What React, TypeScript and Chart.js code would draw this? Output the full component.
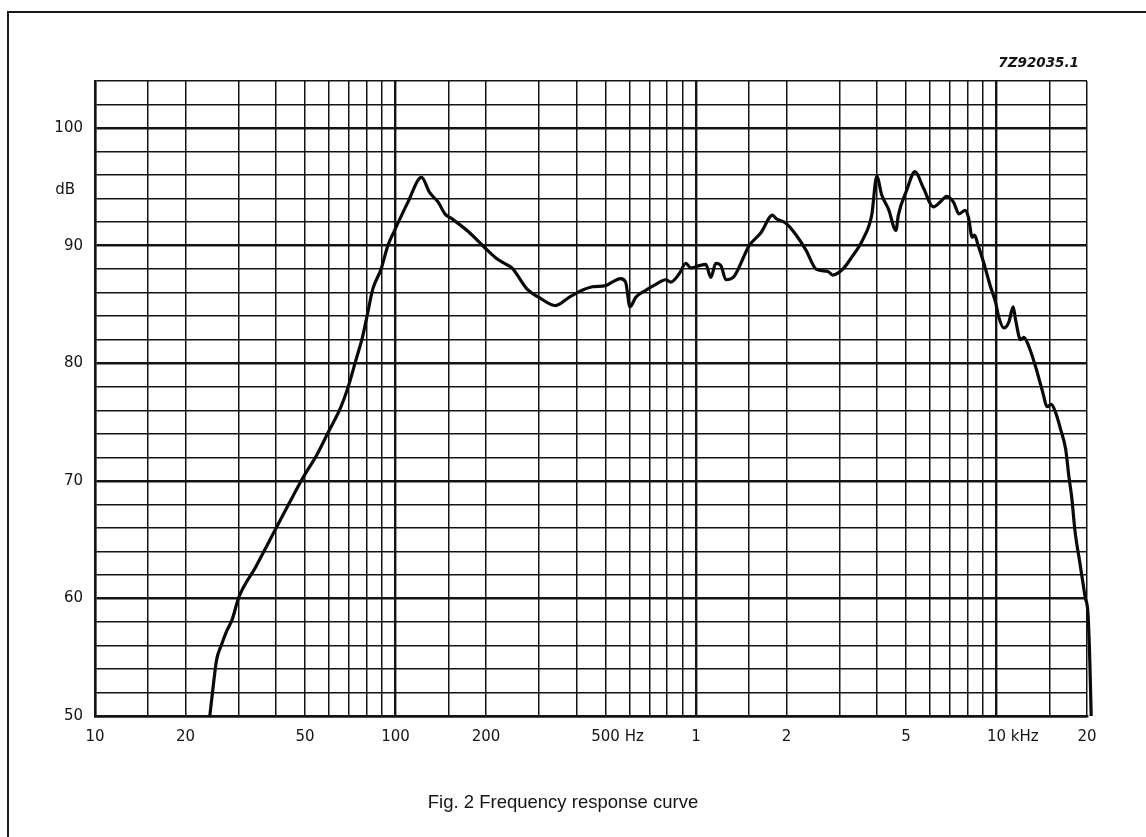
import React, { useEffect, useRef } from "react";
import { Chart, registerables } from "chart.js";

Chart.register(...registerables);

// Frequency (Hz) and sound pressure level (dB)
const FREQ_HZ = [
  24.1, 24.6, 25.4, 26.3, 27.4, 28.6, 30.1, 34.3, 40.1, 44.5, 49.3, 54.7, 59.9, 65.6, 70, 73.7,
  77.6, 80.7, 84, 89.5, 94.3, 99.3, 110, 122, 130, 138.7, 146, 153.8, 174.6, 198.6, 214.7, 230,
  244, 274, 300, 341, 378, 418, 452, 500, 526, 561, 583, 603, 630, 680, 735, 793, 824, 879, 925,
  961, 1024, 1078, 1120, 1164, 1210, 1257, 1340, 1503, 1644, 1798, 1845, 1992, 2153, 2324, 2510,
  2744, 2851, 3079, 3294, 3603, 3843, 3994, 4150, 4370, 4627, 4713, 5023, 5355, 5710, 6166, 6490,
  6827, 7190, 7503, 7860, 8063, 8300, 8450, 8670, 9074, 9550, 9923, 10180, 10580, 10990, 11360,
  11570, 12020, 12330, 12820, 13490, 14190, 14750, 15210, 15730, 16330, 16980, 17420, 17790,
  18250, 18970, 19720, 20150, 20450, 20650,
];
const LEVEL_DB = [
  50, 52, 54.8, 56, 57.2, 58.2, 60.1, 62.7, 66, 68.2, 70.3, 72.2, 74.2, 76.2, 78.2, 80.2,
  82.2, 84.2, 86.3, 88, 90, 91.3, 93.7, 95.8, 94.5, 93.7, 92.7, 92.3, 91.2, 89.8, 89, 88.5,
  88.1, 86.3, 85.6, 84.9, 85.6, 86.2, 86.5, 86.6, 86.9, 87.2, 86.9, 84.8, 85.6, 86.2, 86.7, 87.1, 86.9, 87.6, 88.5,
  88.1, 88.3, 88.4, 87.3, 88.5, 88.3, 87.1, 87.4, 90, 91.1, 92.6, 92.3, 91.9, 90.9, 89.6, 88,
  87.8, 87.5, 88, 89, 90.6, 92.6, 95.9, 94.3, 93.1, 91.3, 92.6, 94.7, 96.3, 94.9, 93.3, 93.7,
  94.2, 93.7, 92.7, 93, 92.4, 90.7, 90.9, 90.1, 88.5, 86.5, 85.2, 83.9, 83, 83.5, 84.8,
  83.7, 82, 82.2, 81.4, 79.7, 77.7, 76.3, 76.5, 75.8, 74.4, 72.7, 70.3, 68.6,
  65.7, 62.9, 60.1, 58.7, 54.4, 50,
];

// Log-paper vertical grid lines (Hz)
const X_GRID = [
  10, 15, 20, 30, 40, 50, 60, 70, 80, 90,
  100, 150, 200, 300, 400, 500, 600, 700, 800, 900,
  1000, 1500, 2000, 3000, 4000, 5000, 6000, 7000, 8000, 9000,
  10000, 15000, 20000,
];
const X_MAJOR = [10, 100, 1000, 10000];
const X_MIN = 10;
const X_MAX = 20000;
// x tick labels: value, number text, unit text
const X_LABEL_VALUES = [10, 20, 50, 100, 200, 500, 1000, 2000, 5000, 10000, 20000];
const X_LABEL_TEXT = ["10", "20", "50", "100", "200", "500", "1", "2", "5", "10", "20"];
const X_LABEL_UNIT = ["", "", "", "", "", "Hz", "", "", "", "kHz", ""];
const Y_LABELS = [50, 60, 70, 80, 90, 100];
const Y_MIN = 50;
const Y_MAX = 104;
const Y_UNIT_AT = 94.7;
const TITLE = "Fig. 2 Frequency response curve";
const CODE = "7Z92035.1";

const INK = "#141414";
const NUM_FONT = '15px "DejaVu Sans"';

const annotations = {
  id: "annotations",
  afterDraw(chart: any) {
    const ctx = chart.ctx as CanvasRenderingContext2D;
    const xs = chart.scales.x;
    const ys = chart.scales.y;
    ctx.save();
    ctx.fillStyle = INK;
    ctx.font = NUM_FONT;
    ctx.textBaseline = "middle";
    const ly = ys.bottom + 21;
    X_LABEL_VALUES.forEach((v, i) => {
      const px = xs.getPixelForValue(v);
      const t = X_LABEL_TEXT[i];
      ctx.textAlign = "center";
      ctx.fillText(t, px, ly);
      const u = X_LABEL_UNIT[i];
      if (u) {
        const w = ctx.measureText(t).width;
        const sp = ctx.measureText(" ").width;
        ctx.textAlign = "left";
        ctx.fillText(u, px + w / 2 + sp, ly);
      }
    });
    // dB unit on y axis
    ctx.textAlign = "right";
    ctx.fillText("dB", xs.left - 20, ys.getPixelForValue(Y_UNIT_AT));
    // code top right
    ctx.font = 'italic bold 13.5px "DejaVu Sans"';
    ctx.textAlign = "right";
    ctx.fillText(CODE, xs.right - 8, ys.top - 18);
    // caption
    ctx.font = '18.5px "Liberation Sans"';
    ctx.textAlign = "center";
    ctx.fillText(TITLE, 563, 803);
    ctx.restore();
  },
};

export default function App() {
  const ref = useRef<HTMLCanvasElement>(null);

  useEffect(() => {
    const canvas = ref.current;
    if (!canvas) return;
    const chart = new Chart(canvas, {
      type: "line",
      data: {
        datasets: [
          {
            data: FREQ_HZ.map((f, i) => ({ x: f, y: LEVEL_DB[i] })),
            borderColor: "#0a0a0a",
            borderWidth: 3.2,
            pointRadius: 0,
            cubicInterpolationMode: "monotone",
            fill: false,
            clip: false as any,
          },
        ],
      },
      options: {
        responsive: false,
        maintainAspectRatio: false,
        animation: false,
        events: [],
        layout: { padding: { left: 0, top: 81, right: 59, bottom: 0 } },
        plugins: {
          legend: { display: false },
          tooltip: { enabled: false },
          title: { display: false },
        },
        scales: {
          x: {
            type: "logarithmic",
            afterDataLimits: (s: any) => {
              s.min = X_MIN;
              s.max = X_MAX;
            },
            afterBuildTicks: (s: any) => {
              s.ticks = X_GRID.map((v) => ({ value: v }));
            },
            afterFit: (s: any) => {
              s.height = 121;
            },
            ticks: { display: false },
            grid: {
              color: INK,
              lineWidth: (c: any) => (c.tick && X_MAJOR.includes(c.tick.value) ? 2.4 : 1.5),
              drawTicks: false,
            },
            border: { color: INK, width: 2.4 },
          },
          y: {
            type: "linear",
            min: Y_MIN,
            max: Y_MAX,
            afterFit: (s: any) => {
              s.width = 95;
            },
            ticks: {
              stepSize: 2,
              autoSkip: false,
              padding: 12,
              color: INK,
              font: { family: "DejaVu Sans", size: 15 },
              callback: (v: any) => (Y_LABELS.includes(Number(v)) ? String(v) : ""),
            },
            grid: {
              color: INK,
              lineWidth: (c: any) => (c.tick && Number(c.tick.value) % 10 === 0 ? 2.4 : 1.5),
              drawTicks: false,
            },
            border: { color: INK, width: 2.4 },
          },
        },
      },
      plugins: [annotations],
    });
    return () => chart.destroy();
  }, []);

  return (
    <div style={{ position: "absolute", left: 0, top: 0, width: 1146, height: 837, background: "#fff", overflow: "hidden" }}>
      <div
        style={{
          position: "absolute",
          left: 7,
          top: 11,
          right: 0,
          bottom: 0,
          borderTop: "2px solid #1a1a1a",
          borderLeft: "2px solid #1a1a1a",
        }}
      />
      <canvas ref={ref} width={1146} height={837} style={{ position: "absolute", left: 0, top: 0 }} />
    </div>
  );
}
